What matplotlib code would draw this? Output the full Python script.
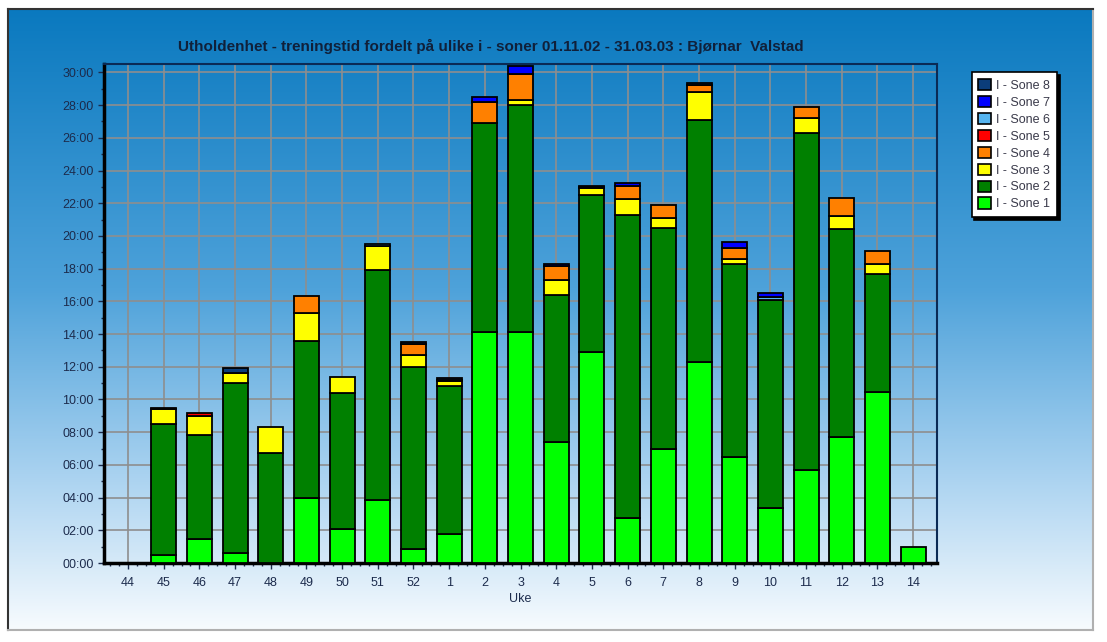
import matplotlib
matplotlib.use('Agg')
import matplotlib.pyplot as plt
import numpy as np
from matplotlib.colors import LinearSegmentedColormap
from matplotlib.patches import Patch
from matplotlib.ticker import MultipleLocator, FuncFormatter

plt.rcParams['font.family'] = ['Liberation Sans', 'DejaVu Sans']

# hours per week, per intensity zone
weeks = ['44', '45', '46', '47', '48', '49', '50', '51', '52', '1', '2', '3',
         '4', '5', '6', '7', '8', '9', '10', '11', '12', '13', '14']
sone1 = [0, 0.5, 1.5, 0.6, 0, 4.0, 2.1, 3.85, 0.85, 1.8, 14.1, 14.1,
         7.4, 12.9, 2.75, 7.0, 12.3, 6.5, 3.35, 5.7, 7.7, 10.45, 1.0]
sone2 = [0, 8.0, 6.3, 10.4, 6.7, 9.6, 8.3, 14.05, 11.15, 9.0, 12.8, 13.9,
         9.0, 9.6, 18.5, 13.5, 14.8, 11.8, 12.75, 20.6, 12.7, 7.2, 0]
sone3 = [0, 0.9, 1.2, 0.6, 1.6, 1.7, 1.0, 1.5, 0.7, 0.3, 0, 0.3,
         0.9, 0.4, 1.0, 0.6, 1.7, 0.3, 0, 0.9, 0.8, 0.65, 0]
sone4 = [0, 0, 0, 0, 0, 1.0, 0, 0, 0.7, 0, 1.3, 1.6,
         0.85, 0, 0.8, 0.8, 0.4, 0.65, 0, 0.7, 1.1, 0.75, 0]
sone5 = [0, 0, 0.2, 0, 0, 0, 0, 0, 0, 0, 0, 0,
         0, 0, 0, 0, 0, 0, 0, 0, 0, 0, 0]
sone6 = [0, 0, 0, 0, 0, 0, 0, 0.1, 0, 0.1, 0, 0,
         0, 0.1, 0, 0, 0, 0, 0.15, 0, 0, 0, 0]
sone7 = [0, 0, 0, 0, 0, 0, 0, 0, 0, 0, 0.3, 0.5,
         0.15, 0, 0.2, 0, 0, 0.35, 0.25, 0, 0, 0, 0]
sone8 = [0, 0.05, 0, 0.3, 0, 0, 0, 0, 0.1, 0.1, 0, 0,
         0, 0.05, 0, 0, 0.15, 0, 0, 0, 0, 0, 0]

series = [sone1, sone2, sone3, sone4, sone5, sone6, sone7, sone8]
labels = ['I - Sone 1', 'I - Sone 2', 'I - Sone 3', 'I - Sone 4',
          'I - Sone 5', 'I - Sone 6', 'I - Sone 7', 'I - Sone 8']
colors = ['#00ff00', '#008000', '#ffff00', '#ff8000',
          '#ff0000', '#55b4f0', '#0000ff', '#0b3d7a']

fig = plt.figure(figsize=(11.07, 6.42), dpi=100)

# gradient panel behind everything
bg = fig.add_axes([0.0072, 0.0187, 0.98, 0.967], zorder=-10)
cmap = LinearSegmentedColormap.from_list(
    'panel', [(0, '#0a79bf'), (0.45, '#4ea2da'), (0.75, '#a9d2f0'), (1.0, '#f7fbfe')])
bg.imshow(np.linspace(0, 1, 256).reshape(-1, 1), aspect='auto', cmap=cmap,
          extent=[0, 1, 0, 1])
bg.set_xticks([])
bg.set_yticks([])
for side in ['left', 'top']:
    bg.spines[side].set_color('#333333')
    bg.spines[side].set_linewidth(1.5)
for side in ['right', 'bottom']:
    bg.spines[side].set_color('#b0b0b0')
    bg.spines[side].set_linewidth(1.5)

ax = fig.add_axes([0.094, 0.123, 0.7525, 0.777])
ax.set_facecolor('none')

x = np.arange(len(weeks))
bottom = np.zeros(len(weeks))
for vals, col in zip(series, colors):
    v = np.array(vals, dtype=float)
    lw = np.where(v > 0, 1.3, 0)
    ax.bar(x, v, 0.7, bottom=bottom, color=col, edgecolor='black',
           linewidth=lw, zorder=3)
    bottom += v

ax.set_xlim(-0.67, len(weeks) - 0.33)
ax.set_ylim(0, 30.5)
ax.set_xticks(x)
ax.set_xticklabels(weeks)
ax.xaxis.set_minor_locator(MultipleLocator(0.25))
ax.yaxis.set_major_locator(MultipleLocator(2))
ax.yaxis.set_minor_locator(MultipleLocator(1))
ax.yaxis.set_major_formatter(FuncFormatter(lambda v, p: f"{int(v):02d}:00"))

ax.grid(True, which='major', color='#8e8e8e', linewidth=1.2, zorder=0)
ax.tick_params(axis='both', labelsize=9, colors='#1c2b4c', length=4, width=1)
ax.tick_params(axis='both', which='minor', length=2.5, width=1, colors='#1c2b4c')
ax.tick_params(axis='x', pad=6)

ax.spines['left'].set_linewidth(2.5)
ax.spines['bottom'].set_linewidth(2.5)
ax.spines['top'].set_color('#0a2a55')
ax.spines['right'].set_color('#0a2a55')
ax.spines['top'].set_linewidth(1.5)
ax.spines['right'].set_linewidth(1.5)

ax.set_xlabel('Uke', fontsize=9, color='#1c2b4c', labelpad=3)

fig.text(0.443, 0.928, 'Utholdenhet - treningstid fordelt på ulike i - soner 01.11.02 - 31.03.03 : Bjørnar  Valstad',
         ha='center', va='center', fontsize=11, fontweight='bold', color='#10203a')

handles = [Patch(facecolor=c, edgecolor='black', linewidth=1.2) for c in colors][::-1]
leg = fig.legend(handles, labels[::-1], loc='upper left', bbox_to_anchor=(0.872, 0.897),
                 fontsize=9, frameon=True, fancybox=False, handlelength=1.0,
                 handleheight=1.0, handletextpad=0.4, labelspacing=0.32,
                 borderpad=0.55, shadow={'color': 'black', 'alpha': 1})
leg.get_frame().set_edgecolor('black')
leg.get_frame().set_linewidth(1.2)
for t in leg.get_texts():
    t.set_color('#3a3a4a')

fig.savefig('out.png', dpi=100)
